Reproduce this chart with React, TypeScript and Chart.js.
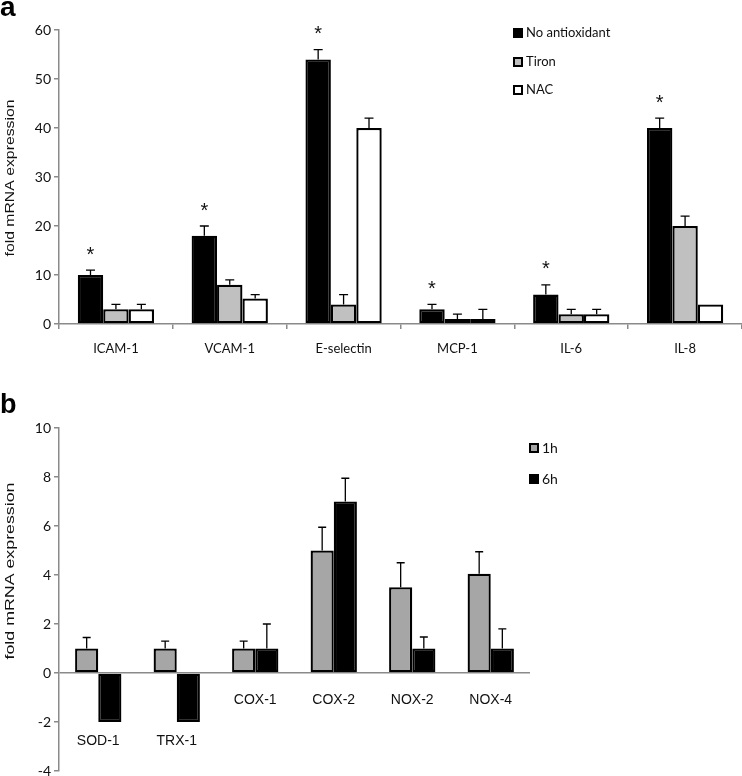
import React, { useEffect, useRef } from "react";
import { Chart, registerables } from "chart.js";
Chart.register(...registerables);

// ---------- Panel a data ----------
const topCategories = ["ICAM-1", "VCAM-1", "E-selectin", "MCP-1", "IL-6", "IL-8"];
const noAntioxidant = [10, 18, 54, 3, 6, 40];
const noAntioxidantErr = [1, 2, 2, 1, 2, 2];
const tiron = [3, 8, 4, 1, 2, 20];
const tironErr = [1, 1, 2, 1, 1, 2];
const nac = [3, 5.2, 40, 1, 2, 4];
const nacErr = [1, 0.8, 2, 2, 1, 0];
const topSignificant = [true, true, true, true, true, true];
const topLegend = ["No antioxidant", "Tiron", "NAC"];

// ---------- Panel b data ----------
const bottomCategories = ["SOD-1", "TRX-1", "COX-1", "COX-2", "NOX-2", "NOX-4"];
const oneHour = [1, 1, 1, 5, 3.5, 4.05];
const oneHourErr = [0.45, 0.3, 0.3, 0.95, 1, 0.9];
const sixHour = [-2, -2, 1, 7, 1, 1];
const sixHourErr = [0, 0, 1, 0.95, 0.47, 0.8];
const bottomLegend = ["1h", "6h"];

const AXIS_COLOR = "#8a8a8a";
const TEXT_COLOR = "#111";
const CAL = "Lato, 'Open Sans', sans-serif";
const ARIAL = "'Liberation Sans', Arial, sans-serif";

const errorBarPlugin = {
  id: "errorBars",
  afterDatasetsDraw(chart: any) {
    const ctx = chart.ctx;
    const y = chart.scales.y;
    chart.data.datasets.forEach((ds: any, i: number) => {
      const errs = ds.errors;
      if (!errs) return;
      const meta = chart.getDatasetMeta(i);
      meta.data.forEach((el: any, j: number) => {
        const e = errs[j];
        const v = ds.data[j];
        if (!e) return;
        const yEnd = y.getPixelForValue(v >= 0 ? v + e : v - e);
        const cap = ds.capHalf || 4;
        ctx.save();
        ctx.strokeStyle = "#000";
        ctx.lineWidth = 1.3;
        ctx.beginPath();
        ctx.moveTo(el.x, el.y);
        ctx.lineTo(el.x, yEnd);
        ctx.moveTo(el.x - cap, yEnd);
        ctx.lineTo(el.x + cap, yEnd);
        ctx.stroke();
        ctx.restore();
      });
    });
  },
};

function drawYTitle(ctx: CanvasRenderingContext2D, text: string, cx: number, cy: number, length: number) {
  ctx.save();
  ctx.font = `13px ${ARIAL}`;
  ctx.fillStyle = TEXT_COLOR;
  const w = ctx.measureText(text).width;
  ctx.translate(cx, cy);
  ctx.rotate(-Math.PI / 2);
  ctx.scale(length / w, 1);
  ctx.textAlign = "center";
  ctx.textBaseline = "middle";
  ctx.fillText(text, 0, 0);
  ctx.restore();
}

function drawLegend(
  ctx: CanvasRenderingContext2D,
  items: { label: string; fill: string; border: boolean }[],
  x: number,
  ys: number[],
  font: string
) {
  ctx.save();
  items.forEach((it, i) => {
    const y = ys[i];
    ctx.fillStyle = it.fill;
    ctx.fillRect(x, y - 5, 10, 10);
    if (it.border) {
      ctx.strokeStyle = "#000";
      ctx.lineWidth = 2;
      ctx.strokeRect(x + 1, y - 4, 8, 8);
    }
    ctx.fillStyle = TEXT_COLOR;
    ctx.font = font;
    ctx.textAlign = "left";
    ctx.textBaseline = "middle";
    ctx.fillText(it.label, x + 13, y);
  });
  ctx.restore();
}

const topDecor = {
  id: "topDecor",
  afterDraw(chart: any) {
    const ctx = chart.ctx;
    const y = chart.scales.y;
    const meta = chart.getDatasetMeta(0);
    ctx.save();
    ctx.fillStyle = TEXT_COLOR;
    ctx.font = `20px ${ARIAL}`;
    ctx.textAlign = "center";
    ctx.textBaseline = "middle";
    topSignificant.forEach((s, i) => {
      if (!s) return;
      const el = meta.data[i];
      const yp = y.getPixelForValue(noAntioxidant[i] + noAntioxidantErr[i]) - 15;
      ctx.fillText("*", el.x, yp);
    });
    ctx.fillStyle = "#000";
    ctx.font = `bold 28px ${ARIAL}`;
    ctx.textAlign = "left";
    ctx.textBaseline = "alphabetic";
    ctx.fillText("a", 0, 16);
    ctx.restore();
    drawYTitle(ctx, "fold mRNA expression", 10, 178, 157);
    drawLegend(
      ctx,
      [
        { label: topLegend[0], fill: "#000", border: false },
        { label: topLegend[1], fill: "#c0c0c0", border: true },
        { label: topLegend[2], fill: "#fff", border: true },
      ],
      513,
      [33, 62, 90],
      `13px ${CAL}`
    );
  },
};

const bottomDecor = {
  id: "bottomDecor",
  afterDraw(chart: any) {
    const ctx = chart.ctx;
    const y = chart.scales.y;
    const meta = chart.getDatasetMeta(0);
    const meta2 = chart.getDatasetMeta(1);
    ctx.save();
    ctx.fillStyle = TEXT_COLOR;
    ctx.font = `14px ${ARIAL}`;
    ctx.textAlign = "center";
    ctx.textBaseline = "middle";
    bottomCategories.forEach((c, i) => {
      const cx = (meta.data[i].x + meta2.data[i].x) / 2;
      const minV = Math.min(oneHour[i], sixHour[i], 0);
      const yp = minV < 0 ? y.getPixelForValue(minV) + 19 : y.getPixelForValue(0) + 27;
      ctx.fillText(c, cx, yp);
    });
    ctx.fillStyle = "#000";
    ctx.font = `bold 27px ${ARIAL}`;
    ctx.textAlign = "left";
    ctx.textBaseline = "alphabetic";
    ctx.fillText("b", 0, 47);
    ctx.restore();
    drawYTitle(ctx, "fold mRNA expression", 10, 205, 177);
    drawLegend(
      ctx,
      [
        { label: bottomLegend[0], fill: "#a6a6a6", border: true },
        { label: bottomLegend[1], fill: "#000", border: false },
      ],
      529,
      [82, 113],
      `14px ${CAL}`
    );
  },
};

function TopChart() {
  const ref = useRef<HTMLCanvasElement>(null);
  useEffect(() => {
    const chart = new Chart(ref.current!, {
      type: "bar",
      data: {
        labels: topCategories,
        datasets: [
          { label: topLegend[0], data: noAntioxidant, errors: noAntioxidantErr, capHalf: 4.5, backgroundColor: "#000", borderColor: "#000", borderWidth: 2.3, borderSkipped: false } as any,
          { label: topLegend[1], data: tiron, errors: tironErr, capHalf: 4.5, backgroundColor: "#c0c0c0", borderColor: "#000", borderWidth: 2.3, borderSkipped: false } as any,
          { label: topLegend[2], data: nac, errors: nacErr, capHalf: 4.5, backgroundColor: "#fff", borderColor: "#000", borderWidth: 2.3, borderSkipped: false } as any,
        ],
      },
      options: {
        animation: false,
        responsive: false,
        maintainAspectRatio: false,
        layout: { padding: { top: 30, right: 0, bottom: 0, left: 0 } },
        datasets: { bar: { categoryPercentage: 0.67, barPercentage: 1.0 } },
        plugins: { legend: { display: false }, tooltip: { enabled: false } },
        scales: {
          x: {
            grid: { display: true, drawOnChartArea: false, drawTicks: true, tickLength: 5, color: AXIS_COLOR, lineWidth: 1.5, offset: true },
            border: { display: true, color: AXIS_COLOR, width: 1.5 },
            ticks: { color: TEXT_COLOR, font: { family: CAL, size: 13 }, padding: 12, maxRotation: 0 },
            afterFit: (s: any) => { s.height = 42; },
          },
          y: {
            min: 0,
            max: 60,
            ticks: { stepSize: 10, color: TEXT_COLOR, font: { family: CAL, size: 14 }, padding: 3 },
            grid: { display: true, drawOnChartArea: false, drawTicks: true, tickLength: 5, color: AXIS_COLOR, lineWidth: 1.5 },
            border: { display: true, color: AXIS_COLOR, width: 1.5 },
            afterFit: (s: any) => { s.width = 59; },
          },
        },
      },
      plugins: [errorBarPlugin, topDecor],
    } as any);
    return () => chart.destroy();
  }, []);
  return <canvas ref={ref} width={742} height={366} style={{ position: "absolute", left: 0, top: 0, width: 742, height: 366 }} />;
}

function BottomChart() {
  const ref = useRef<HTMLCanvasElement>(null);
  useEffect(() => {
    const chart = new Chart(ref.current!, {
      type: "bar",
      data: {
        labels: bottomCategories,
        datasets: [
          { label: bottomLegend[0], data: oneHour, errors: oneHourErr, capHalf: 4, backgroundColor: "#a6a6a6", borderColor: "#000", borderWidth: 2.3, borderSkipped: false } as any,
          { label: bottomLegend[1], data: sixHour, errors: sixHourErr, capHalf: 4, backgroundColor: "#000", borderColor: "#000", borderWidth: 2.3, borderSkipped: false } as any,
        ],
      },
      options: {
        animation: false,
        responsive: false,
        maintainAspectRatio: false,
        layout: { padding: { top: 62, right: 212, bottom: 15, left: 0 } },
        datasets: { bar: { categoryPercentage: 0.59, barPercentage: 1.0 } },
        plugins: { legend: { display: false }, tooltip: { enabled: false } },
        scales: {
          x: { display: false },
          y: {
            min: -4,
            max: 10,
            ticks: { stepSize: 2, color: TEXT_COLOR, font: { family: CAL, size: 14 }, padding: 3 },
            grid: {
              display: true,
              drawOnChartArea: true,
              drawTicks: true,
              tickLength: 5,
              color: (c: any) => (c.tick && c.tick.value === 0 ? AXIS_COLOR : "rgba(0,0,0,0)"),
              tickColor: AXIS_COLOR,
              lineWidth: 1.5,
            },
            border: { display: true, color: AXIS_COLOR, width: 1.5 },
            afterFit: (s: any) => { s.width = 59; },
          },
        },
      },
      plugins: [errorBarPlugin, bottomDecor],
    } as any);
    return () => chart.destroy();
  }, []);
  return <canvas ref={ref} width={742} height={420} style={{ position: "absolute", left: 0, top: 366, width: 742, height: 420 }} />;
}

export default function App() {
  return (
    <div style={{ position: "fixed", left: 0, top: 0, width: 742, height: 776, overflow: "hidden", background: "#fff" }}>
      <TopChart />
      <BottomChart />
    </div>
  );
}
